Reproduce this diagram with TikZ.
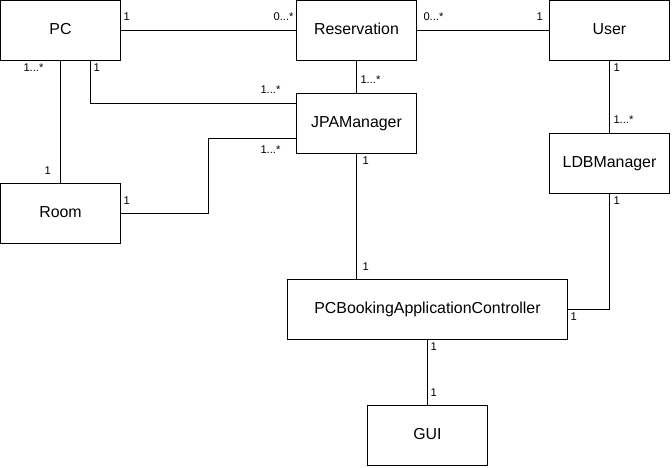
\documentclass[tikz,border=0pt]{standalone}
\usepackage{fontspec}
\setmainfont{Liberation Sans}
\usetikzlibrary{positioning}

\begin{document}
\begin{tikzpicture}[
x=1pt, y=-1pt,
line width=1pt,
class/.style={
    draw,
    rectangle,
    minimum width=120pt,
    minimum height=60pt,
    inner sep=0pt,
    outer sep=0pt,
    text depth=3pt,
    font=\fontsize{15.9}{19}\selectfont
},
mult/.style={
    inner sep=0pt,
    font=\fontsize{11.2}{13}\selectfont
}
]

\useasboundingbox (0,0) rectangle (672,467);

\node[class] (pc) at (60.5,30.5) {PC};

\node[class] (res) [right=176pt of pc] {Reservation};

\node[class] (user) [right=133pt of res] {User};

\node[class] (jpa) [below=33pt of res] {JPAManager};

\node[class] (room) [below=123pt of pc] {Room};

\node[class] (ldb) [below=73pt of user] {LDBManager};

\node[class, minimum width=280pt] (pcb) at (427.5,309.5)
{PCBookingApplicationController};

\node[class] (gui) [below=66pt of pcb] {GUI};

\draw (pc)--(res);
\draw (res)--(user);
\draw (pc)--(room);
\draw ([xshift=30pt]pc.south) |- ([yshift=20pt]jpa.west);
\draw (res)--(jpa);
\draw (room.east) -- ++(88pt,0) |- ([yshift=-15pt]jpa.west);
\draw (jpa.south)--(jpa.south |- pcb.north);
\draw (user)--(ldb);
\draw (ldb.south) |- (pcb.east);
\draw (pcb.south)--(gui.north);

% multiplicities
\node[mult, anchor=west] (m1) at (123,17) {1};
\node[mult, anchor=east] (m2) at (294,17) {0...*};
\node[mult, anchor=west] (m3) at (423,17) {0...*};
\node[mult, anchor=west] (m4) at (536,17) {1};
\node[mult, anchor=west] (m5) at (23,68) {1...*};
\node[mult, anchor=west] (m6) at (93,68) {1};
\node[mult, anchor=west] (m7) at (260,90) {1...*};
\node[mult, anchor=west] (m8) at (44,171) {1};
\node[mult, anchor=west] (m9) at (123,201) {1};
\node[mult, anchor=west] (m10) at (260,150) {1...*};
\node[mult, anchor=west] (m11) at (360,80) {1...*};
\node[mult, anchor=west] (m12) at (613,68) {1};
\node[mult, anchor=west] (m13) at (613,120) {1...*};
\node[mult, anchor=west] (m14) at (362,161) {1};
\node[mult, anchor=west] (m15) at (613,201) {1};
\node[mult, anchor=west] (m16) at (362,267) {1};
\node[mult, anchor=west] (m17) at (570,317) {1};
\node[mult, anchor=west] (m18) at (430,347) {1};
\node[mult, anchor=west] (m19) at (430,393) {1};

\end{tikzpicture}
\end{document}
